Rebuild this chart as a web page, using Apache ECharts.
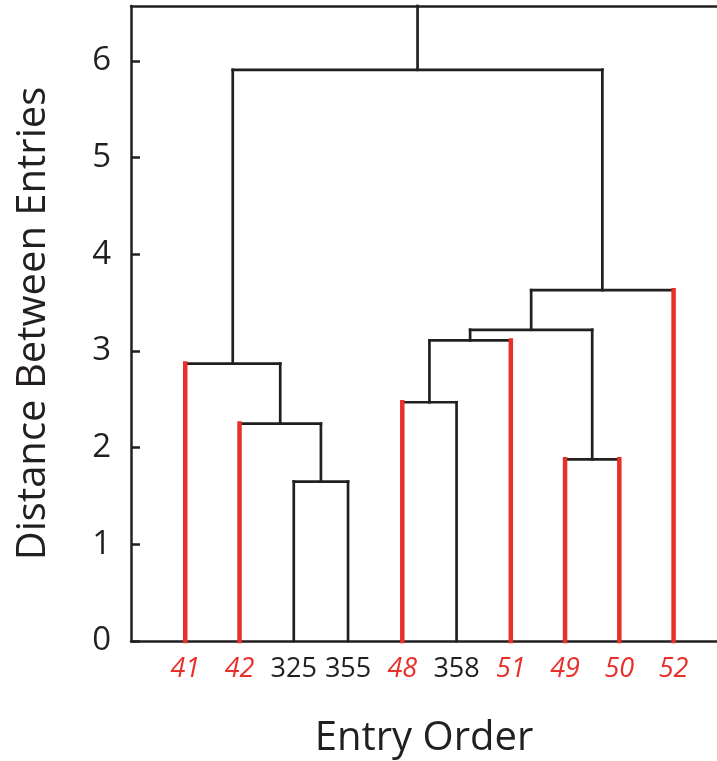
<!DOCTYPE html>
<html>
<head>
<meta charset="utf-8">
<script src="https://cdn.jsdelivr.net/npm/echarts@6/dist/echarts.min.js"></script>
<style>
  html, body { margin: 0; padding: 0; background: #fff; }
  #chart { width: 717px; height: 761px; }
</style>
</head>
<body>
<div id="chart"></div>
<script>
// leaves, left to right
const leafLabels = ['41', '42', '325', '355', '48', '358', '51', '49', '50', '52'];
const leafRed = [1, 1, 0, 0, 1, 0, 1, 1, 1, 1];
// linkage: leaves are 0-9, each merge makes node 10, 11, ...
const linkLeft = [2, 1, 0, 4, 13, 7, 14, 16, 12];
const linkRight = [3, 10, 11, 5, 6, 8, 15, 9, 17];
const linkHeight = [1.65, 2.25, 2.87, 2.47, 3.11, 1.88, 3.22, 3.63, 5.91];
const yTicks = [0, 1, 2, 3, 4, 5, 6];
const yMax = 6.57;

const RED = '#e8302b';
const INK = '#231f20';
const FONT = 'Open Sans';

// x and height of every node
const nodeX = leafLabels.map((l, i) => i + 1);
const nodeH = leafLabels.map(() => 0);
linkLeft.forEach((a, k) => {
  const b = linkRight[k];
  nodeX.push((nodeX[a] + nodeX[b]) / 2);
  nodeH.push(linkHeight[k]);
});

// segments [x1, y1, x2, y2, isRedLeaf]
const segs = [];
linkLeft.forEach((a, k) => {
  const b = linkRight[k];
  const h = linkHeight[k];
  segs.push([nodeX[a], nodeH[a], nodeX[a], h, a < leafLabels.length && leafRed[a] ? 1 : 0]);
  segs.push([nodeX[b], nodeH[b], nodeX[b], h, b < leafLabels.length && leafRed[b] ? 1 : 0]);
  segs.push([nodeX[a], h, nodeX[b], h, 0]);
});
const root = nodeX.length - 1;
segs.push([nodeX[root], nodeH[root], nodeX[root], yMax, 0]); //root stem up to the frame

const chart = echarts.init(document.getElementById('chart'));

const option = {
  animation: false,
  textStyle: { fontFamily: FONT },
  grid: { left: 131, right: 0, top: 6, bottom: 120, outerBoundsMode: 'none' },
  xAxis: [{
    type: 'value',
    min: 0,
    max: 10.8,
    splitLine: { show: false },
    axisTick: { show: false },
    axisLine: { lineStyle: { color: INK, width: 2.5 } },
    axisLabel: {
      customValues: nodeX.slice(0, leafLabels.length),
      margin: 15,
      formatter: (v) => {
        const i = Math.round(v) - 1;
        return leafRed[i] ? `{r|${leafLabels[i]}}` : `{b|${leafLabels[i]}}`;
      },
      rich: {
        r: { color: RED, fontStyle: 'italic', fontSize: 27, fontFamily: FONT },
        b: { color: INK, fontSize: 27, fontFamily: FONT },
      },
    },
    name: 'Entry Order',
    nameLocation: 'middle',
    nameGap: 78,
    nameTextStyle: { fontSize: 40, color: INK, fontFamily: FONT },
  }, {
    // top frame line
    type: 'value',
    position: 'top',
    min: 0,
    max: 10.8,
    splitLine: { show: false },
    axisTick: { show: false },
    axisLabel: { show: false },
    axisLine: { lineStyle: { color: INK, width: 2.5 } },
  }],
  yAxis: {
    type: 'value',
    min: 0,
    max: yMax,
    interval: 1,
    splitLine: { show: false },
    axisLine: { show: true, lineStyle: { color: INK, width: 2.5 } },
    axisTick: {
      show: true,
      inside: true,
      length: 9,
      customValues: yTicks,
      lineStyle: { color: INK, width: 2.5 },
    },
    axisLabel: {
      customValues: yTicks,
      margin: 20,
      fontSize: 33,
      color: INK,
      fontFamily: FONT,
    },
    name: 'Distance Between Entries',
    nameLocation: 'middle',
    nameGap: 77,
    nameTextStyle: { fontSize: 40, color: INK, fontFamily: FONT },
  },
  series: [{
    type: 'custom',
    coordinateSystem: 'cartesian2d',
    data: segs,
    encode: { x: [0, 2], y: [1, 3] },
    renderItem: (params, api) => {
      const p1 = api.coord([api.value(0), api.value(1)]);
      const p2 = api.coord([api.value(2), api.value(3)]);
      const red = api.value(4) === 1;
      return {
        type: 'line',
        shape: { x1: p1[0], y1: p1[1], x2: p2[0], y2: p2[1] },
        style: {
          stroke: red ? RED : INK,
          lineWidth: red ? 4.5 : 2.7,
          lineCap: 'square',
        },
        z2: red ? 2 : 1,
      };
    },
  }],
};
chart.setOption(option);
</script>
</body>
</html>
